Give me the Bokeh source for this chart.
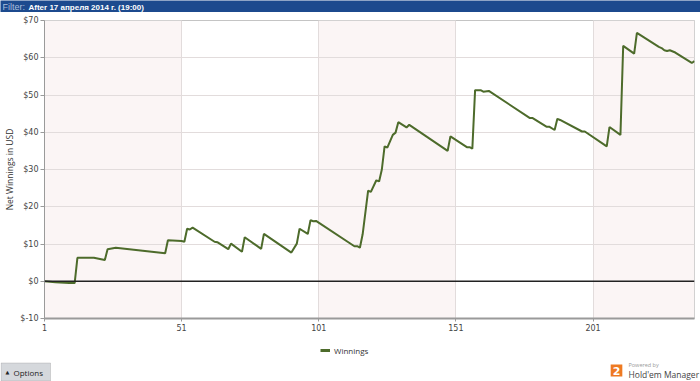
from bokeh.plotting import figure
from bokeh.layouts import column
from bokeh.models import (Range1d, FixedTicker, PrintfTickFormatter, BoxAnnotation,
                          Span, Label, Legend, LegendItem)
from bokeh.embed import file_html
from bokeh.resources import INLINE

# ---- data ----
hands = [1, 5, 10, 12, 13, 19, 23, 24, 27, 45,
         46, 51, 52, 53, 54, 55, 63, 64, 68, 69,
         73, 74, 80, 81, 91, 93, 94, 97, 98, 99,
         100, 114, 115, 116, 117, 119, 120, 122, 123, 124,
         125, 126, 128, 129, 130, 133, 134, 148, 149, 155,
         156, 157, 158, 160, 161, 163, 178, 179, 184, 185,
         187, 188, 189, 197, 198, 206, 207, 211, 212, 216,
         217, 225, 226, 227, 228, 229, 231, 237, 238]
winnings = [0, -0.3, -0.5, -0.5, 6.3, 6.3, 5.7, 8.6, 9.0, 7.5,
            11.0, 10.8, 10.6, 14.1, 13.9, 14.4, 10.6, 10.5, 8.6, 10.1,
            7.9, 11.8, 8.7, 12.7, 7.7, 10.1, 14.1, 12.7, 16.4, 16.1,
            16.2, 9.4, 9.4, 9.0, 12.6, 24.3, 24.0, 27.1, 26.8, 30.0,
            36.2, 35.9, 39.3, 39.9, 42.7, 41.3, 42.0, 35.0, 38.9, 36.0,
            36.0, 35.6, 51.3, 51.3, 50.9, 51.1, 43.8, 43.8, 41.5, 41.5,
            40.6, 43.6, 43.3, 40.2, 40.2, 36.2, 41.4, 39.3, 63.2, 61.1,
            66.7, 62.9, 62.6, 62.0, 61.8, 62.0, 61.4, 58.6, 59.1]
x_ticks = [1, 51, 101, 151, 201]
y_ticks = [-10, 0, 10, 20, 30, 40, 50, 60, 70]
band_starts = [1, 101, 201]
band_ends = [51, 151, 238]
header_prefix = "Filter:"
header_text = "After 17 апреля 2014 г. (19:00)"
y_label = "Net Winnings in USD"
series_name = "Winnings"

LINE_COLOR = "#4d6b2b"
W = 700
HEAD_H, MAIN_H, FOOT_H = 12, 328, 41


def blank_figure(h, ymax):
    f = figure(width=W, height=h, output_backend="svg", toolbar_location=None,
               x_range=Range1d(0, W), y_range=Range1d(ymax, 0),
               min_border=0, min_border_left=0, min_border_right=0,
               min_border_top=0, min_border_bottom=0, frame_align=False)
    f.axis.visible = False
    f.grid.visible = False
    f.outline_line_color = None
    f.border_fill_color = "white"
    return f


# ---------------- header bar ----------------
head = blank_figure(HEAD_H, HEAD_H)
head.background_fill_color = "#1c4a8e"
head.add_layout(Label(x=2, y=6.5, text=header_prefix, text_baseline="middle",
                      text_font="Liberation Sans", text_font_size="9px",
                      text_color="#a8bedc"))
head.add_layout(Label(x=28, y=6.5, text=header_text, text_baseline="middle",
                      text_font="Liberation Sans", text_font_size="8px",
                      text_font_style="bold", text_color="white"))

# ---------------- main chart ----------------
p = figure(width=W, height=MAIN_H, output_backend="svg", toolbar_location=None,
           x_range=Range1d(1, 238), y_range=Range1d(-10, 70),
           min_border_left=44, min_border_right=6, min_border_top=8,
           min_border_bottom=22, frame_align=False)
p.background_fill_color = "white"
p.border_fill_color = "white"
p.outline_line_color = "#c4c4c4"

for s, e in zip(band_starts, band_ends):
    p.add_layout(BoxAnnotation(left=s, right=e, fill_color="#fbf5f5", fill_alpha=1,
                               line_color=None, level="image"))

p.xgrid.ticker = FixedTicker(ticks=x_ticks)
p.ygrid.ticker = FixedTicker(ticks=y_ticks)
p.xgrid.grid_line_color = "#e2dcdc"
p.ygrid.grid_line_color = "#e2dcdc"

p.xaxis.ticker = FixedTicker(ticks=x_ticks)
p.yaxis.ticker = FixedTicker(ticks=y_ticks)
p.yaxis.formatter = PrintfTickFormatter(format="$%d")
for ax in (p.xaxis[0], p.yaxis[0]):
    ax.axis_line_color = "#9a9a9a"
    ax.major_tick_line_color = "#9a9a9a"
    ax.minor_tick_line_color = None
    ax.major_tick_in = 0
    ax.major_tick_out = 4
    ax.major_label_text_font = "DejaVu Sans"
    ax.major_label_text_font_size = "8px"
    ax.major_label_text_color = "#444444"
    ax.major_label_standoff = 2
p.xaxis.axis_line_width = 2
p.xaxis.major_tick_out = 3
p.yaxis.axis_label = y_label
p.yaxis.axis_label_text_font = "Open Sans"
p.yaxis.axis_label_text_font_size = "8.5px"
p.yaxis.axis_label_text_font_style = "normal"
p.yaxis.axis_label_text_color = "#333333"
p.yaxis.axis_label_standoff = 2

p.line(hands, winnings, line_color=LINE_COLOR, line_width=2)
p.add_layout(Span(location=0, dimension="width", line_color="#222222", line_width=1.5))

# ---------------- footer: legend, options button, logo ----------------
foot = blank_figure(FOOT_H, FOOT_H)
foot.background_fill_color = "white"
# legend proxy renderer, placed outside the visible footer area
legend_line = foot.line(x=[-20, -10], y=[-20, -20], line_color=LINE_COLOR,
                        line_width=3)
legend = Legend(items=[LegendItem(label=series_name, renderers=[legend_line])],
                location=(320, FOOT_H - 16), orientation="horizontal", padding=0,
                margin=0, glyph_width=10, glyph_height=12, label_height=12,
                label_standoff=4, label_text_font="Open Sans",
                label_text_font_size="8px", label_text_color="#333333",
                border_line_color=None, background_fill_alpha=0)
foot.add_layout(legend)

foot.add_layout(BoxAnnotation(left=0.5, right=50, top=22.5, bottom=40.5,
                              fill_color="#d5d8dc", fill_alpha=1,
                              line_color="#8a8a8a", line_width=1))
foot.add_layout(Label(x=5, y=31, text="▲", text_baseline="middle",
                      text_font="DejaVu Sans", text_font_size="5px",
                      text_color="#222222"))
foot.add_layout(Label(x=13, y=31.5, text="Options", text_baseline="middle",
                      text_font="Open Sans", text_font_size="8px",
                      text_color="#222222"))

foot.add_layout(Label(x=616, y=30, text="2", text_baseline="middle",
                      text_align="center", text_font="DejaVu Sans",
                      text_font_size="11px", text_font_style="bold",
                      text_color="white", background_fill_color="#ee7a22",
                      padding=2))
foot.add_layout(Label(x=628, y=24.5, text="Powered by", text_baseline="middle",
                      text_font="Open Sans", text_font_size="5.5px",
                      text_color="#9a9a9a"))
foot.add_layout(Label(x=628, y=33.5, text="Hold'em Manager", text_baseline="middle",
                      text_font="Open Sans", text_font_size="8.5px",
                      text_color="#444444"))

layout = column(head, p, foot, spacing=0)
open("out.html", "w").write(file_html(layout, INLINE))
